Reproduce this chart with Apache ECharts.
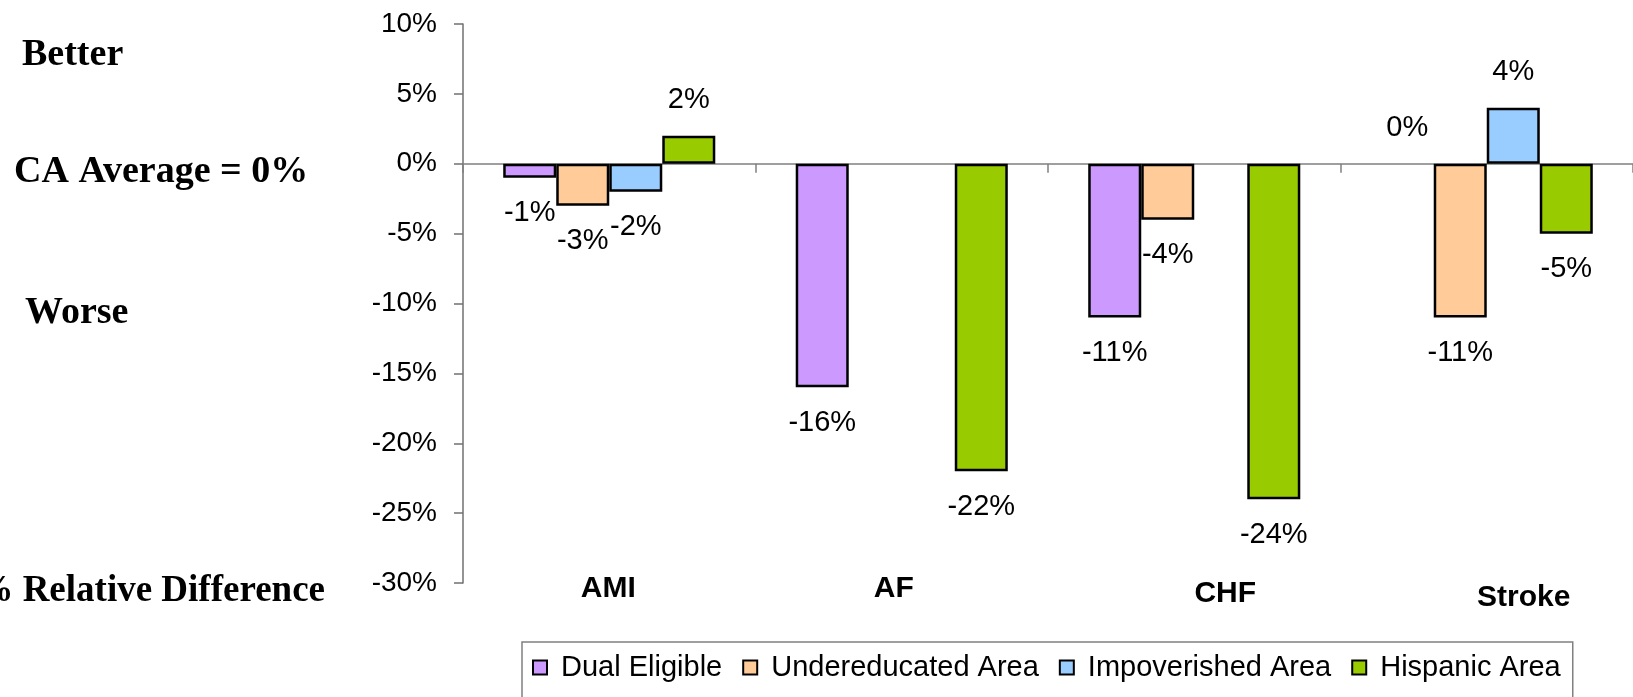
<!DOCTYPE html>
<html>
<head>
<meta charset="utf-8">
<title>Relative Difference</title>
<script src="https://cdn.jsdelivr.net/npm/echarts@6/dist/echarts.min.js"></script>
<style>
  html, body { margin: 0; padding: 0; background: #fff; }
  #chart { width: 1633px; height: 697px; }
</style>
</head>
<body>
<div id="chart"></div>
<script>
const categories = ['AMI', 'AF', 'CHF', 'Stroke']
const seriesNames = ['Dual Eligible', 'Undereducated Area', 'Impoverished Area', 'Hispanic Area']
const dualEligible = [-1, -16, -11, 0]
const undereducatedArea = [-3, null, -4, -11]
const impoverishedArea = [-2, null, null, 4]
const hispanicArea = [2, -22, -24, -5]
const yMin = -30
const yMax = 10
const yStep = 5
const sideNotes = ['Better', 'CA Average = 0%', 'Worse', '% Relative Difference']

const colorArr = ['#CC99FF', '#FFCC99', '#99CCFF', '#99CC00']
const sansFont = '"Liberation Sans", Arial, sans-serif'
const serifFont = '"Liberation Serif", "Times New Roman", serif'

const chartInstance = echarts.init(document.getElementById('chart'))

// nudges so the category names sit where the original put them
const labelRich = {
  AMI: { padding: [0, 2, 0, 0] },
  AF: { padding: [0, 16, 0, 0] },
  CHF: { padding: [5, 0, 0, 62] },
  Stroke: { padding: [9, 0, 0, 74] }
}
Object.keys(labelRich).forEach(key => {
  Object.assign(labelRich[key], {
    fontSize: 30,
    fontWeight: 'bold',
    fontFamily: sansFont,
    color: '#000'
  })
})

const valueArr = [dualEligible, undereducatedArea, impoverishedArea, hispanicArea]
const seriesArr = valueArr.map((data, index) => {
  const items = data.map(v => {
    if (v === null) return null
    const item = {
      value: v,
      label: { position: v < 0 ? 'bottom' : 'top' }
    }
    // a zero bar has no body, only the label shows
    if (v === 0) item.itemStyle = { borderWidth: 0 }
    return item
  })
  return {
    name: seriesNames[index],
    type: 'bar',
    xAxisIndex: 0,
    data: items,
    barGap: '0%',
    barCategoryGap: '27.5%',
    itemStyle: {
      color: colorArr[index],
      borderColor: '#000',
      borderWidth: 2.5
    },
    label: {
      show: true,
      distance: 21,
      fontSize: 29,
      fontFamily: sansFont,
      color: '#000',
      formatter: p => p.value + '%'
    },
    emphasis: { disabled: true }
  }
})

const initOption = {
  animation: false,
  backgroundColor: '#fff',
  grid: {
    left: 463,
    top: 24,
    width: 1182,
    height: 559
  },
  legend: {
    data: seriesNames,
    left: 522,
    top: 642,
    padding: [11, 12, 40, 10],
    borderColor: '#808080',
    borderWidth: 1.5,
    icon: 'rect',
    itemWidth: 14,
    itemHeight: 14,
    itemGap: 20,
    selectedMode: false,
    textStyle: {
      fontSize: 29,
      fontFamily: sansFont,
      color: '#000',
      padding: [0, 0, 0, 9]
    }
  },
  xAxis: [
    {
      type: 'category',
      data: categories,
      axisLine: {
        onZero: true,
        lineStyle: { color: '#808080', width: 1.5 }
      },
      axisTick: {
        show: true,
        length: 9,
        lineStyle: { color: '#808080', width: 1.5 }
      },
      axisLabel: { show: false },
      splitLine: { show: false }
    },
    {
      type: 'category',
      data: categories,
      position: 'bottom',
      axisLine: { show: false, onZero: false },
      axisTick: { show: false },
      splitLine: { show: false },
      axisLabel: {
        margin: -9,
        formatter: value => '{' + value + '|' + value + '}',
        rich: labelRich
      }
    }
  ],
  yAxis: {
    type: 'value',
    min: yMin,
    max: yMax,
    interval: yStep,
    axisLine: {
      show: true,
      lineStyle: { color: '#707070', width: 1.5 }
    },
    axisTick: {
      show: true,
      length: 9,
      lineStyle: { color: '#707070', width: 1.5 }
    },
    splitLine: { show: false },
    axisLabel: {
      margin: 26,
      fontSize: 28,
      fontFamily: sansFont,
      color: '#000',
      formatter: '{value}%'
    }
  },
  graphic: [
    {
      type: 'text',
      x: 22,
      y: 55,
      style: { text: sideNotes[0], font: 'bold 38px ' + serifFont, fill: '#000', align: 'left', verticalAlign: 'middle' }
    },
    {
      type: 'text',
      x: 14,
      y: 172,
      style: { text: sideNotes[1], font: 'bold 38px ' + serifFont, fill: '#000', align: 'left', verticalAlign: 'middle' }
    },
    {
      type: 'text',
      x: 25,
      y: 313,
      style: { text: sideNotes[2], font: 'bold 38px ' + serifFont, fill: '#000', align: 'left', verticalAlign: 'middle' }
    },
    {
      type: 'text',
      x: 325,
      y: 591,
      style: { text: sideNotes[3], font: 'bold 37px ' + serifFont, fill: '#000', align: 'right', verticalAlign: 'middle' }
    }
  ],
  series: seriesArr
}

chartInstance.setOption(initOption)
</script>
</body>
</html>
